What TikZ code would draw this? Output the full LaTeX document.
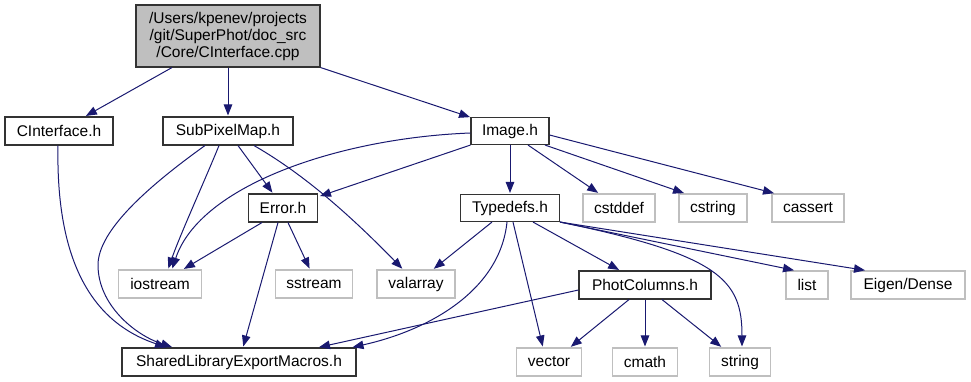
\documentclass[tikz,border=0pt]{standalone}
\usepackage{fontspec}
\setmainfont{Liberation Sans}
\usetikzlibrary{arrows.meta}
\definecolor{edgeblue}{RGB}{25,25,112}
\definecolor{extgray}{RGB}{191,191,191}
\definecolor{rootfill}{RGB}{191,191,191}
\tikzset{
  box/.style={draw=black!80, line width=1.1pt, fill=white, inner sep=0pt,
    minimum height=28pt, font=\fontsize{15.5}{17}\selectfont},
  extbox/.style={box, draw=extgray},
  rootbox/.style={box, fill=rootfill, align=center, minimum height=62pt},
  dep/.style={draw=edgeblue, line width=1pt, shorten >=1pt,
    -{Triangle[length=11pt,width=8.5pt]}},
}
\begin{document}
\begin{tikzpicture}[x=1pt,y=-1pt]
\useasboundingbox (0,0) rectangle (971,382);

% files of the project
\node[rootbox, minimum width=184pt] (root) at (228,36)
  {/Users/kpenev/projects\\/git/SuperPhot/doc\_src\\/Core/CInterface.cpp};
\node[box, minimum width=108pt] (cif)   at (59,131)  {CInterface.h};
\node[box, minimum width=130pt] (spm)   at (228,131) {SubPixelMap.h};
\node[box, minimum width=78pt,  minimum height=27pt] (img) at (510,131) {Image.h};
\node[box, minimum width=99pt,  minimum height=27pt] (typ) at (510,208) {Typedefs.h};
\node[box, minimum width=69pt]  (err)   at (283,208) {Error.h};
\node[box, minimum width=132pt] (phot)  at (645,285) {PhotColumns.h};
\node[box, minimum width=234pt] (shl)   at (239,362) {SharedLibraryExportMacros.h};

% system and library headers
\node[extbox, minimum width=72pt]  (cstddef) at (619,208) {cstddef};
\node[extbox, minimum width=68pt]  (cstring) at (713,208) {cstring};
\node[extbox, minimum width=72pt]  (cassert) at (808,208) {cassert};
\node[extbox, minimum width=83pt]  (iostr)   at (160,284) {iostream};
\node[extbox, minimum width=77pt]  (sstr)    at (314,284) {sstream};
\node[extbox, minimum width=78pt]  (valarr)  at (416,284) {valarray};
\node[extbox, minimum width=42pt]  (list)    at (807,285) {list};
\node[extbox, minimum width=114pt] (eigen)   at (908,285) {Eigen/Dense};
\node[extbox, minimum width=65pt]  (vector)  at (549,362) {vector};
\node[extbox, minimum width=65pt]  (cmath)   at (645,362) {cmath};
\node[extbox, minimum width=61pt]  (string)  at (740,362) {string};

% CInterface.cpp
\draw[dep] ([xshift=-56pt]root.south) -- ([xshift=26pt]cif.north);
\draw[dep] (root.south) -- (spm.north);
\draw[dep] (root.south east) -- ([xshift=-39pt,yshift=-0.5pt]img.north);

% CInterface.h
\draw[dep] ([xshift=-1pt]cif.south) .. controls (56,250) and (85,320) .. ([xshift=-72pt]shl.north);

% SubPixelMap.h
\draw[dep] ([xshift=-23pt]spm.south) .. controls (150,185) and (98,230) .. (98,265)
  .. controls (98,305) and (135,335) .. ([xshift=-66pt]shl.north);
\draw[dep] ([xshift=-9pt]spm.south) .. controls (205,180) and (180,235) .. ([xshift=8pt]iostr.north);
\draw[dep] ([xshift=10pt]spm.south) -- ([xshift=-10pt]err.north);
\draw[dep] ([xshift=26pt]spm.south) .. controls (300,172) and (345,210) .. ([xshift=-13pt]valarr.north);

% Image.h
\draw[dep] ([yshift=-2pt]img.west) .. controls (340,138) and (200,185) .. ([xshift=12pt]iostr.north);
\draw[dep] (img.south west) -- ([xshift=36pt,yshift=-3pt]err.north);
\draw[dep] (img.south) -- (typ.north);
\draw[dep] ([xshift=18pt]img.south) -- ([xshift=-20pt]cstddef.north);
\draw[dep] ([xshift=35pt]img.south) -- ([xshift=-28pt]cstring.north);
\draw[dep] ([yshift=-4pt]img.east) -- ([xshift=-33pt]cassert.north);

% Error.h
\draw[dep] ([xshift=-21pt]err.south) -- ([xshift=23pt]iostr.north);
\draw[dep] ([xshift=5pt]err.south) -- ([xshift=-4pt]sstr.north);
\draw[dep] ([xshift=-5pt]err.south) -- ([xshift=4pt]shl.north);

% Typedefs.h
\draw[dep] ([xshift=-18pt]typ.south) -- ([xshift=17pt]valarr.north);
\draw[dep] ([xshift=-3pt]typ.south) .. controls (500,290) and (430,330) .. ([xshift=-5pt]shl.north east);
\draw[dep] ([xshift=3pt]typ.south) -- ([xshift=-6pt]vector.north);
\draw[dep] ([xshift=23pt]typ.south) -- ([xshift=-25pt]phot.north);
\draw[dep] (typ.south east) .. controls (720,255) and (742,280) .. ([xshift=2pt]string.north);
\draw[dep] (typ.south east) -- ([xshift=-12pt]list.north);
\draw[dep] (typ.south east) -- ([xshift=-42pt]eigen.north);

% PhotColumns.h
\draw[dep] ([yshift=-5pt]phot.west) -- ([xshift=79pt]shl.north);
\draw[dep] ([xshift=-16pt]phot.south) -- ([xshift=21pt]vector.north);
\draw[dep] (phot.south) -- (cmath.north);
\draw[dep] ([xshift=17pt]phot.south) -- ([xshift=-18pt]string.north);
\end{tikzpicture}
\end{document}
